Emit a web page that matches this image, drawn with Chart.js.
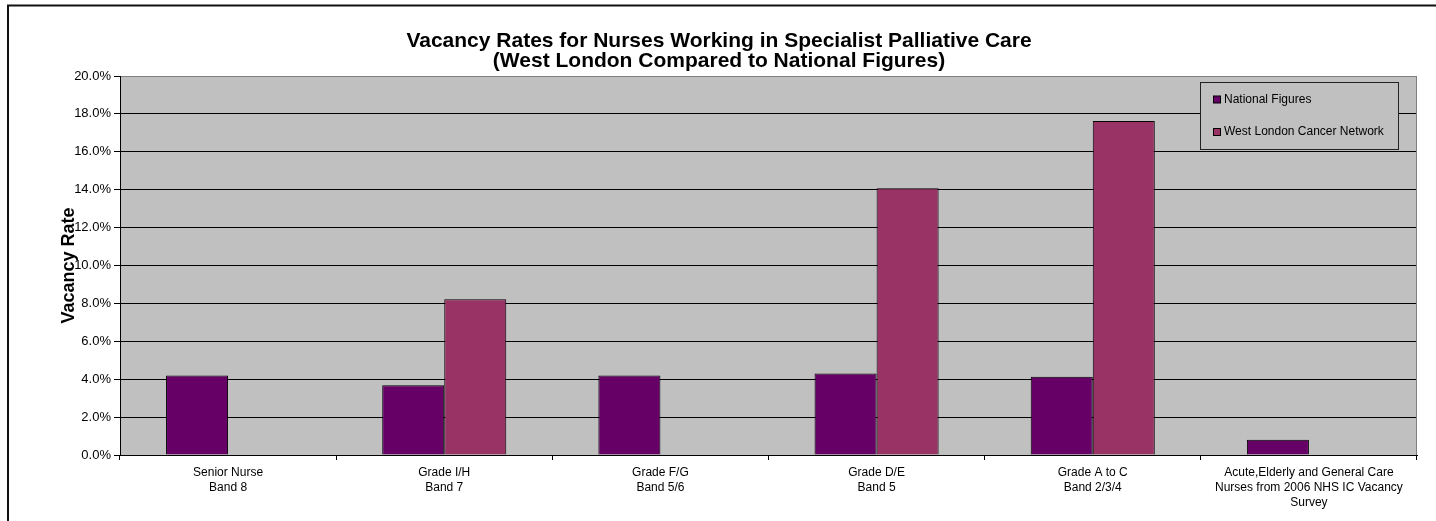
<!DOCTYPE html>
<html>
<head>
<meta charset="utf-8">
<script src="https://cdn.jsdelivr.net/npm/chart.js@4"></script>
<style>
html,body{margin:0;padding:0;background:#fff;}
#wrap{width:1436px;height:521px;position:relative;}
</style>
</head>
<body>
<div id="wrap"><canvas id="c" width="1436" height="521"></canvas></div>
<script>
const categories = [
  ["Senior Nurse", "Band 8"],
  ["Grade I/H", "Band 7"],
  ["Grade F/G", "Band 5/6"],
  ["Grade D/E", "Band 5"],
  ["Grade A to C", "Band 2/3/4"],
  ["Acute,Elderly and General Care", "Nurses from 2006 NHS IC Vacancy", "Survey"]
];
const nationalFigures = [4.2, 3.68, 4.2, 4.3, 4.13, 0.8];
const westLondon = [null, 8.22, null, 14.07, 17.63, null];
const seriesNames = ["National Figures", "West London Cancer Network"];
const seriesColors = ["#660066", "#993366"];
const chartTitle = ["Vacancy Rates for Nurses Working in Specialist Palliative Care", "(West London Compared to National Figures)"];
const yAxisTitle = "Vacancy Rate";
const yMin = 0, yMax = 20, yStep = 2;

const FONT = "'Liberation Sans', Arial, sans-serif";

const framePlugin = {
  id: 'frame',
  beforeDraw(chart) {
    const c = chart.ctx, a = chart.chartArea;
    c.save();
    c.fillStyle = '#ffffff';
    c.fillRect(0, 0, chart.width, chart.height);
    c.fillStyle = '#C0C0C0';
    c.fillRect(a.left, a.top, a.right - a.left, a.bottom - a.top);
    c.restore();
  },
  beforeDatasetsDraw(chart) {
    const c = chart.ctx, a = chart.chartArea;
    c.save();
    c.strokeStyle = '#808080';
    c.lineWidth = 1;
    c.beginPath();
    c.moveTo(Math.round(a.right) - 0.5, a.top);
    c.lineTo(Math.round(a.right) - 0.5, a.bottom);
    c.stroke();
    c.restore();
  },
  afterDraw(chart) {
    const c = chart.ctx;
    c.save();
    // outer border
    c.strokeStyle = '#111';
    c.lineWidth = 2;
    c.strokeRect(8, 5.5, chart.width + 20, chart.height + 20);
    // legend box
    const lx = 1200.5, ly = 82.5, lw = 198, lh = 67;
    c.fillStyle = '#C0C0C0';
    c.fillRect(lx, ly, lw, lh);
    c.strokeStyle = '#222';
    c.lineWidth = 1;
    c.strokeRect(lx, ly, lw, lh);
    c.font = '12px ' + FONT;
    c.textBaseline = 'middle';
    c.textAlign = 'left';
    chart.data.datasets.forEach((ds, i) => {
      const cy = [99.5, 132][i];
      c.fillStyle = ds.backgroundColor;
      c.fillRect(1213.5, cy - 3.5, 7, 7);
      c.strokeStyle = '#000';
      c.strokeRect(1213.5, cy - 3.5, 7, 7);
      c.fillStyle = '#000';
      c.fillText(ds.label, 1224, cy);
    });
    c.restore();
  }
};

new Chart(document.getElementById('c'), {
  type: 'bar',
  data: {
    labels: categories,
    datasets: [
      { label: seriesNames[0], data: nationalFigures, backgroundColor: seriesColors[0], borderColor: '#000', borderWidth: 1, categoryPercentage: 0.574, barPercentage: 1.0 },
      { label: seriesNames[1], data: westLondon, backgroundColor: seriesColors[1], borderColor: '#000', borderWidth: 1, categoryPercentage: 0.574, barPercentage: 1.0 }
    ]
  },
  options: {
    responsive: false,
    animation: false,
    devicePixelRatio: 1,
    layout: { padding: { left: 21, right: 19, top: 0, bottom: 0 } },
    plugins: {
      legend: { display: false },
      tooltip: { enabled: false },
      title: {
        display: true,
        text: chartTitle,
        color: '#000',
        font: { family: FONT, size: 21, weight: 'bold', lineHeight: '20px' },
        padding: { top: 31, bottom: 5 }
      }
    },
    scales: {
      x: {
        grid: { display: true, drawOnChartArea: false, drawTicks: true, tickLength: 5, color: '#000', offset: true },
        border: { display: true, color: '#000', width: 1 },
        ticks: { color: '#000', font: { family: FONT, size: 12, lineHeight: '15px' }, maxRotation: 0, autoSkip: false, padding: 5 },
        afterFit(scale) { scale.height = 66; }
      },
      y: {
        min: yMin, max: yMax,
        grid: {
          color: (ctx) => (ctx.tick && ctx.tick.value === yMax) ? '#808080' : '#000',
          tickColor: '#000',
          tickLength: 6,
          drawTicks: true
        },
        border: { display: true, color: '#000', width: 1 },
        ticks: {
          stepSize: yStep,
          color: '#000',
          font: { family: FONT, size: 13 },
          padding: 3,
          callback: (v) => v.toFixed(1) + '%'
        },
        title: {
          display: true,
          text: yAxisTitle,
          color: '#000',
          font: { family: FONT, size: 18, weight: 'bold' },
          padding: { top: 37, bottom: 0 }
        },
        afterFit(scale) { scale.width = 99; }
      }
    }
  },
  plugins: [framePlugin]
});
</script>
</body>
</html>
